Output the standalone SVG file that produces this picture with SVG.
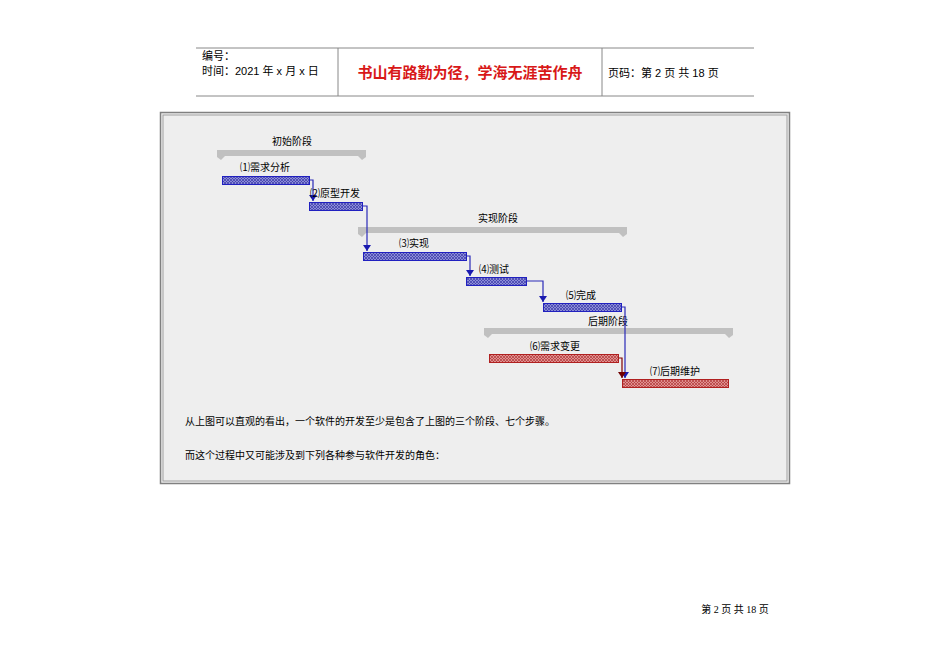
<svg xmlns="http://www.w3.org/2000/svg" width="950" height="672" viewBox="0 0 950 672">
<defs>
<pattern id="hb" width="3" height="3" patternUnits="userSpaceOnUse"><rect width="3" height="3" fill="#8c8cd8"/><path d="M0 0L3 3M3 0L0 3" stroke="#3a3aa8" stroke-width="0.7"/></pattern>
<pattern id="hr" width="3" height="3" patternUnits="userSpaceOnUse"><rect width="3" height="3" fill="#e09090"/><path d="M0 0L3 3M3 0L0 3" stroke="#b03838" stroke-width="0.7"/></pattern>
<marker id="ab" markerWidth="8" markerHeight="6" refX="4" refY="6" markerUnits="userSpaceOnUse" viewBox="0 0 8 6"><path d="M0 0H8L4 6Z" fill="#1a1ab0"/></marker>
<marker id="ar" markerWidth="8" markerHeight="6" refX="4" refY="6" markerUnits="userSpaceOnUse" viewBox="0 0 8 6"><path d="M0 0H8L4 6Z" fill="#700000"/></marker>
</defs>
<style>
text{font-family:"Liberation Sans","Noto Sans CJK SC",sans-serif;font-size:11px;fill:#000}
.t{text-anchor:middle;font-size:10px}
.s{font-family:"Liberation Serif","Noto Sans CJK SC",serif;font-size:10px}
.sum{fill:#c0c0c0}
.tb{fill:url(#hb);stroke:#2020c0;stroke-width:1}
.tr{fill:url(#hr);stroke:#b02020;stroke-width:1}
.cb{fill:none;stroke:#2a2ab8;stroke-width:1.2;marker-end:url(#ab)}
.cr{fill:none;stroke:#800000;stroke-width:1.2;marker-end:url(#ar)}
</style>
<rect width="950" height="672" fill="#fff"/>
<g id="header">
<line x1="196" y1="48" x2="754" y2="48" stroke="#888"/>
<line x1="196" y1="96" x2="754" y2="96" stroke="#888"/>
<line x1="338" y1="48" x2="338" y2="96" stroke="#888"/>
<line x1="602" y1="48" x2="602" y2="96" stroke="#888"/>
<text x="202" y="60">编号：</text>
<text x="202" y="75">时间：2021 年 x 月 x 日</text>
<text x="470" y="78" text-anchor="middle" style="font-size:15px;fill:#d81818;font-weight:bold">书山有路勤为径，学海无涯苦作舟</text>
<text x="608" y="77">页码：第 2 页  共 18 页</text>
</g>
<g id="frame">
<rect x="160.5" y="112.5" width="629" height="371" fill="#eeeeee" stroke="#808080" stroke-width="1.5"/>
<rect x="163" y="115" width="624" height="366" fill="none" stroke="#a0a0a0" stroke-width="1"/>
</g>
<g id="phase1"><path class="sum" d="M217 150H366V157L362 160L358 156H225L221 160L217 157Z"/><text class="t" x="292" y="145">初始阶段</text></g>
<g id="phase2"><path class="sum" d="M358 227H627V234L623 237L619 233H366L362 237L358 234Z"/><text class="t" x="498" y="222">实现阶段</text></g>
<g id="phase3"><path class="sum" d="M484 328H733V335L729 338L725 334H492L488 338L484 335Z"/><text class="t" x="608" y="325">后期阶段</text></g>
<g id="connectors">
<path class="cb" d="M309 180H313V201"/>
<path class="cb" d="M362 206H367V251"/>
<path class="cb" d="M466 256H470V276"/>
<path class="cb" d="M526 281H543V302"/>
<path class="cb" d="M621 307H625V378"/>
<path class="cr" d="M618 358H622V378"/>
</g>
<g id="t1"><rect class="tb" x="222.5" y="176.5" width="87" height="8"/><text class="t" x="265" y="171">⑴需求分析</text></g>
<g id="t2"><rect class="tb" x="309.5" y="202.5" width="53" height="8"/><text class="t" x="335" y="197">⑵原型开发</text></g>
<g id="t3"><rect class="tb" x="363.5" y="252.5" width="103" height="8"/><text class="t" x="414" y="247">⑶实现</text></g>
<g id="t4"><rect class="tb" x="466.5" y="277.5" width="60" height="8"/><text class="t" x="494" y="273">⑷测试</text></g>
<g id="t5"><rect class="tb" x="543.5" y="303.5" width="78" height="8"/><text class="t" x="581" y="299">⑸完成</text></g>
<g id="t6"><rect class="tr" x="489.5" y="354.5" width="129" height="8"/><text class="t" x="555" y="350">⑹需求变更</text></g>
<g id="t7"><rect class="tr" x="622.5" y="379.5" width="106" height="8"/><text class="t" x="675" y="375">⑺后期维护</text></g>
<g id="body">
<text class="s" x="185" y="425">从上图可以直观的看出，一个软件的开发至少是包含了上图的三个阶段、七个步骤。</text>
<text class="s" x="185" y="459">而这个过程中又可能涉及到下列各种参与软件开发的角色：</text>
</g>
<text class="s" x="735" y="613" text-anchor="middle">第 2 页 共 18 页</text>
</svg>
